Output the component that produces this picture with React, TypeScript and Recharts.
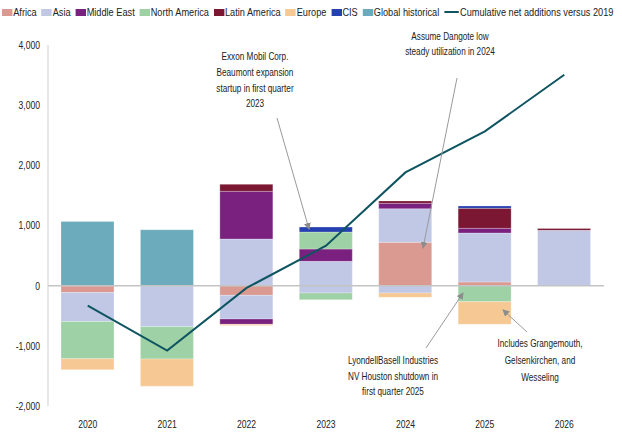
import React from "react";
import {
  ComposedChart,
  Bar,
  Line,
  XAxis,
  YAxis,
  ReferenceLine,
} from "recharts";

const years = ["2020", "2021", "2022", "2023", "2024", "2025", "2026"];

// additions (+) and closures (-) per region, kb/d
const africaAdd = [0, 0, 0, 0, 720, 61, 0];
const africaCut = [-115, 0, -161, 0, 0, 0, 0];
const asiaAdd = [0, 0, 776, 404, 559, 814, 919];
const asiaCut = [-480, -681, -393, -122, -122, 0, 0];
const middleEastAdd = [0, 0, 792, 205, 89, 78, 0];
const middleEastCut = [0, 0, -89, 0, 0, 0, 0];
const northAmericaAdd = [0, 0, 0, 282, 0, 0, 0];
const northAmericaCut = [-620, -537, 0, -111, 0, -266, 0];
const latinAmericaAdd = [0, 0, 116, 0, 40, 332, 33];
const europeCut = [-183, -454, -17, 0, -72, -377, 0];
const cisAdd = [0, 0, 0, 83, 0, 40, 0];
const globalHistorical = [1068, 930, 0, 0, 0, 0, 0];
const cumulative = [-332, -1080, -38, 664, 1882, 2565, 3505];

const yTicks = [-2000, -1000, 0, 1000, 2000, 3000, 4000];

const data = years.map((year, i) => ({
  year,
  africaAdd: africaAdd[i],
  africaCut: africaCut[i],
  asiaAdd: asiaAdd[i],
  asiaCut: asiaCut[i],
  middleEastAdd: middleEastAdd[i],
  middleEastCut: middleEastCut[i],
  northAmericaAdd: northAmericaAdd[i],
  northAmericaCut: northAmericaCut[i],
  latinAmericaAdd: latinAmericaAdd[i],
  europeCut: europeCut[i],
  cisAdd: cisAdd[i],
  globalHistorical: globalHistorical[i],
  cumulative: cumulative[i],
}));

const C = {
  africa: "#DA9A92",
  asia: "#C0C8E6",
  middleEast: "#7A2180",
  northAmerica: "#9FD1A6",
  latinAmerica: "#7B1733",
  europe: "#F6C994",
  cis: "#2540B0",
  global: "#6CABBC",
  line: "#0E5461",
};

const FONT = "'Liberation Sans', Arial, sans-serif";
const TEXT = "#222";
const SX = 0.78; // horizontal squeeze to mimic a narrow face

const legendItems = [
  { name: "Africa", color: C.africa },
  { name: "Asia", color: C.asia },
  { name: "Middle East", color: C.middleEast },
  { name: "North America", color: C.northAmerica },
  { name: "Latin America", color: C.latinAmerica },
  { name: "Europe", color: C.europe },
  { name: "CIS", color: C.cis },
  { name: "Global historical", color: C.global },
];

const series: [string, string][] = [
  ["africaAdd", C.africa],
  ["africaCut", C.africa],
  ["asiaAdd", C.asia],
  ["asiaCut", C.asia],
  ["middleEastAdd", C.middleEast],
  ["middleEastCut", C.middleEast],
  ["northAmericaAdd", C.northAmerica],
  ["northAmericaCut", C.northAmerica],
  ["latinAmericaAdd", C.latinAmerica],
  ["europeCut", C.europe],
  ["cisAdd", C.cis],
  ["globalHistorical", C.global],
];

// narrow text helper
function NText({ x, y, anchor = "middle", size = 11, children }: any) {
  return (
    <text
      x={x / SX}
      y={y}
      transform={`scale(${SX},1)`}
      textAnchor={anchor}
      fontFamily={FONT}
      fontSize={size}
      fill={TEXT}
    >
      {children}
    </text>
  );
}

function XTick({ x, y, payload }: any) {
  return <NText x={x} y={y + 14}>{payload.value}</NText>;
}

function YTick({ x, y, payload }: any) {
  return (
    <NText x={x} y={y + 4} anchor="end">
      {Number(payload.value).toLocaleString("en-US")}
    </NText>
  );
}

function Legend() {
  return (
    <div
      style={{
        position: "absolute",
        left: 2,
        top: 6,
        display: "flex",
        alignItems: "center",
        fontFamily: FONT,
        fontSize: 11.5,
        color: TEXT,
        whiteSpace: "nowrap",
        transform: "scaleX(0.8)",
        transformOrigin: "left center",
      }}
    >
      {legendItems.map((it) => (
        <span key={it.name} style={{ display: "flex", alignItems: "center", marginRight: 6 }}>
          <span style={{ width: 13, height: 7, background: it.color, marginRight: 1 }} />
          {it.name}
        </span>
      ))}
      <span style={{ display: "flex", alignItems: "center" }}>
        <span style={{ width: 18, height: 2, background: C.line, marginRight: 2 }} />
        Cumulative net additions versus 2019
      </span>
    </div>
  );
}

function Notes() {
  return (
    <svg
      width={622}
      height={442}
      style={{ position: "absolute", left: 0, top: 0, pointerEvents: "none" }}
    >
      <defs>
        <marker id="arr" markerWidth="7" markerHeight="7" refX="6" refY="3.5" orient="auto">
          <path d="M0,0 L7,3.5 L0,7 z" fill="#8c8c8c" />
        </marker>
      </defs>
      <NText x={255} y={60} size={10.5}>Exxon Mobil Corp.</NText>
      <NText x={255} y={76} size={10.5}>Beaumont expansion</NText>
      <NText x={255} y={92} size={10.5}>startup in first quarter</NText>
      <NText x={255} y={107} size={10.5}>2023</NText>
      <line x1={277} y1={118} x2={309} y2={229} stroke="#9a9a9a" strokeWidth={1} markerEnd="url(#arr)" />

      <NText x={450} y={40} size={10.5}>Assume Dangote low</NText>
      <NText x={450} y={55} size={10.5}>steady utilization in 2024</NText>
      <line x1={457} y1={78} x2={423} y2={248} stroke="#9a9a9a" strokeWidth={1} markerEnd="url(#arr)" />

      <NText x={393} y={364} size={10.5}>LyondellBasell Industries</NText>
      <NText x={393} y={380} size={10.5}>NV Houston shutdown in</NText>
      <NText x={393} y={395} size={10.5}>first quarter 2025</NText>
      <line x1={426} y1={348} x2={463} y2={293} stroke="#9a9a9a" strokeWidth={1} markerEnd="url(#arr)" />

      <NText x={540} y={347} size={10.5}>Includes Grangemouth,</NText>
      <NText x={540} y={364} size={10.5}>Gelsenkirchen, and</NText>
      <NText x={540} y={381} size={10.5}>Wesseling</NText>
      <line x1={527} y1={332} x2={503} y2={310} stroke="#9a9a9a" strokeWidth={1} markerEnd="url(#arr)" />
    </svg>
  );
}

export default function App() {
  return (
    <div style={{ position: "absolute", left: 0, top: 0, width: 622, height: 442, background: "#fff" }}>
      <ComposedChart
        width={622}
        height={442}
        data={data}
        stackOffset="sign"
        margin={{ top: 45, right: 18, bottom: 6, left: 4 }}
      >
        <XAxis
          dataKey="year"
          axisLine={false}
          tickLine={false}
          height={30}
          tick={<XTick />}
        />
        <YAxis
          width={44}
          domain={[-2000, 4000]}
          ticks={yTicks}
          interval={0}
          axisLine={{ stroke: "#cfcfcf" }}
          tickLine={false}
          tick={<YTick />}
        />
        <ReferenceLine y={0} stroke="#c4c4c4" strokeWidth={1.5} />
        {series.map(([key, color]) => (
          <Bar
            key={key}
            dataKey={key}
            stackId="a"
            barSize={53}
            fill={color}
            stroke="#ffffff"
            strokeOpacity={0.5}
            strokeWidth={0.5}
            isAnimationActive={false}
          />
        ))}
        <Line
          type="linear"
          dataKey="cumulative"
          stroke={C.line}
          strokeWidth={2}
          dot={false}
          isAnimationActive={false}
        />
      </ComposedChart>
      <Legend />
      <Notes />
    </div>
  );
}
